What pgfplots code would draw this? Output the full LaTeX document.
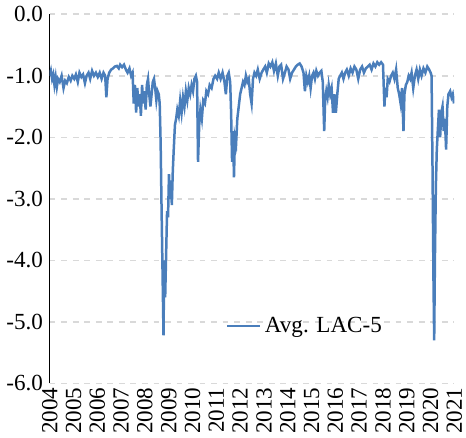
\documentclass[border=0pt]{standalone}
\usepackage{pgfplots}
\pgfplotsset{compat=1.18}
\usepackage{fontspec}
\setmainfont{Liberation Serif}
\definecolor{ser}{RGB}{74,126,187}
\begin{document}
\begin{tikzpicture}
\begin{axis}[
 width=7.4cm,height=6.75cm,scale only axis,
 xmin=2004,xmax=2021,ymin=-6,ymax=0,
 axis x line*=bottom, axis y line*=left,
 x axis line style={draw=none},y axis line style={black,line width=0.7pt},
 xtick={2004,...,2021}, xticklabel style={rotate=90,anchor=east,font=\large,inner sep=2pt},
 xticklabel={\pgfmathprintnumber[1000 sep=]{\tick}},
 ytick={-6,-5,...,0}, yticklabel style={font=\large,/pgf/number format/.cd,fixed,fixed zerofill,precision=1},
 /pgf/number format/assume math mode=true,
 major tick length=0pt,
 ymajorgrids, grid style={dashed,gray!30,line width=0.8pt},
 legend style={draw=none,fill=none,at={(0.42,0.155)},anchor=west,font=\large},
 legend cell align=left,
]
\addplot[ser,line width=1.3pt] coordinates {
(2004.00,-1.00)(2004.05,-0.92)(2004.10,-1.05)(2004.15,-0.98)(2004.20,-1.15)(2004.25,-1.02)(2004.30,-1.18)(2004.35,-1.05)(2004.42,-1.10)(2004.50,-1.00)(2004.58,-1.20)(2004.65,-1.08)(2004.72,-1.12)(2004.80,-1.02)(2004.88,-1.08)(2004.95,-1.00)
(2005.03,-1.05)(2005.10,-0.98)(2005.18,-1.10)(2005.25,-0.95)(2005.33,-1.02)(2005.40,-0.98)(2005.48,-1.12)(2005.55,-1.00)(2005.63,-0.95)(2005.70,-1.05)(2005.78,-0.92)(2005.86,-1.00)(2005.94,-0.95)
(2006.02,-1.02)(2006.10,-0.95)(2006.18,-1.05)(2006.26,-0.95)(2006.33,-1.00)(2006.38,-1.35)(2006.43,-1.05)(2006.50,-0.95)(2006.58,-0.90)(2006.66,-0.88)(2006.74,-0.85)(2006.82,-0.84)(2006.90,-0.88)(2006.96,-0.82)
(2007.04,-0.86)(2007.12,-0.82)(2007.20,-0.90)(2007.27,-0.95)(2007.35,-0.88)(2007.42,-1.00)(2007.48,-0.95)(2007.53,-1.45)(2007.58,-1.15)(2007.63,-1.60)(2007.68,-1.20)(2007.73,-1.50)(2007.78,-1.30)(2007.83,-1.65)(2007.88,-1.15)(2007.93,-1.45)(2007.98,-1.25)
(2008.03,-1.55)(2008.08,-1.15)(2008.13,-1.05)(2008.18,-1.30)(2008.23,-1.50)(2008.28,-1.30)(2008.33,-1.10)(2008.38,-1.05)(2008.43,-1.20)(2008.48,-1.40)(2008.53,-1.25)(2008.58,-1.30)(2008.62,-1.45)(2008.66,-2.10)(2008.70,-3.20)(2008.74,-4.20)(2008.78,-5.22)(2008.81,-4.00)(2008.85,-4.60)(2008.89,-3.90)(2008.93,-3.20)(2008.97,-3.30)
(2009.01,-2.60)(2009.05,-3.00)(2009.09,-2.70)(2009.13,-3.10)(2009.17,-2.55)(2009.21,-2.20)(2009.26,-1.80)(2009.31,-1.70)(2009.36,-1.55)(2009.42,-1.65)(2009.48,-1.40)(2009.54,-1.60)(2009.60,-1.35)(2009.66,-1.50)(2009.72,-1.25)(2009.78,-1.40)(2009.84,-1.20)(2009.90,-1.30)(2009.96,-1.15)
(2010.02,-1.25)(2010.08,-1.05)(2010.14,-1.00)(2010.19,-1.10)(2010.23,-2.40)(2010.28,-1.80)(2010.33,-1.55)(2010.39,-1.70)(2010.45,-1.40)(2010.52,-1.45)(2010.58,-1.25)(2010.65,-1.30)(2010.72,-1.15)(2010.80,-1.20)(2010.88,-1.05)(2010.95,-1.00)
(2011.03,-1.05)(2011.10,-0.95)(2011.18,-1.05)(2011.26,-0.95)(2011.34,-1.10)(2011.40,-1.30)(2011.46,-1.00)(2011.52,-0.95)(2011.58,-1.10)(2011.62,-1.60)(2011.66,-2.40)(2011.70,-1.90)(2011.74,-2.65)(2011.78,-2.00)(2011.83,-2.10)(2011.88,-1.70)(2011.94,-1.50)
(2012.00,-1.30)(2012.06,-1.20)(2012.12,-1.10)(2012.18,-1.15)(2012.24,-1.00)(2012.30,-1.10)(2012.36,-1.05)(2012.42,-1.30)(2012.48,-1.45)(2012.54,-1.05)(2012.60,-0.95)(2012.67,-1.00)(2012.74,-0.90)(2012.82,-1.05)(2012.90,-0.95)(2012.97,-0.90)
(2013.05,-0.85)(2013.12,-0.95)(2013.20,-0.80)(2013.27,-0.85)(2013.35,-0.78)(2013.42,-0.92)(2013.50,-0.80)(2013.58,-1.00)(2013.65,-0.85)(2013.72,-0.82)(2013.80,-1.05)(2013.88,-0.95)(2013.95,-0.85)
(2014.03,-0.90)(2014.10,-1.05)(2014.18,-0.95)(2014.26,-0.90)(2014.34,-0.85)(2014.42,-0.82)(2014.50,-0.80)(2014.58,-0.85)(2014.66,-0.95)(2014.72,-1.25)(2014.78,-1.00)(2014.84,-1.10)(2014.90,-1.00)(2014.96,-1.20)
(2015.02,-1.00)(2015.08,-0.95)(2015.14,-1.05)(2015.20,-0.92)(2015.27,-1.00)(2015.34,-0.95)(2015.41,-0.92)(2015.47,-1.10)(2015.53,-1.90)(2015.57,-1.40)(2015.62,-1.25)(2015.67,-1.35)(2015.72,-1.15)(2015.78,-1.30)(2015.84,-1.20)(2015.90,-1.60)(2015.96,-1.30)
(2016.02,-1.60)(2016.08,-1.30)(2016.14,-1.05)(2016.20,-1.00)(2016.27,-0.95)(2016.34,-1.05)(2016.41,-0.95)(2016.48,-0.90)(2016.56,-1.00)(2016.64,-0.88)(2016.72,-0.95)(2016.80,-0.85)(2016.88,-0.90)(2016.96,-1.05)
(2017.04,-0.90)(2017.12,-0.85)(2017.20,-0.95)(2017.28,-0.88)(2017.36,-0.85)(2017.44,-0.82)(2017.52,-0.90)(2017.60,-0.80)(2017.68,-0.85)(2017.76,-0.78)(2017.84,-0.82)(2017.92,-0.78)
(2018.00,-0.82)(2018.06,-1.50)(2018.10,-1.20)(2018.15,-1.35)(2018.20,-1.05)(2018.27,-1.10)(2018.34,-1.00)(2018.41,-0.95)(2018.48,-1.05)(2018.55,-0.90)(2018.62,-1.20)(2018.68,-1.30)(2018.74,-1.45)(2018.80,-1.20)(2018.86,-1.90)(2018.90,-1.30)(2018.96,-1.15)
(2019.02,-1.10)(2019.08,-1.00)(2019.14,-1.05)(2019.20,-0.95)(2019.27,-1.20)(2019.34,-1.00)(2019.41,-0.90)(2019.48,-1.05)(2019.55,-0.90)(2019.62,-1.00)(2019.70,-0.88)(2019.78,-0.95)(2019.86,-0.85)(2019.94,-0.90)
(2020.00,-0.95)(2020.04,-1.00)(2020.08,-2.50)(2020.12,-4.30)(2020.15,-5.30)(2020.18,-4.00)(2020.22,-2.80)(2020.26,-2.20)(2020.30,-1.90)(2020.35,-1.55)(2020.40,-2.00)(2020.45,-1.60)(2020.50,-1.50)(2020.55,-1.90)(2020.60,-1.70)(2020.65,-2.20)(2020.70,-1.50)(2020.75,-1.30)(2020.82,-1.25)(2020.88,-1.35)(2020.93,-1.30)(2020.98,-1.45)
};
\addlegendentry{Avg. LAC-5}
\end{axis}
\end{tikzpicture}
\end{document}
